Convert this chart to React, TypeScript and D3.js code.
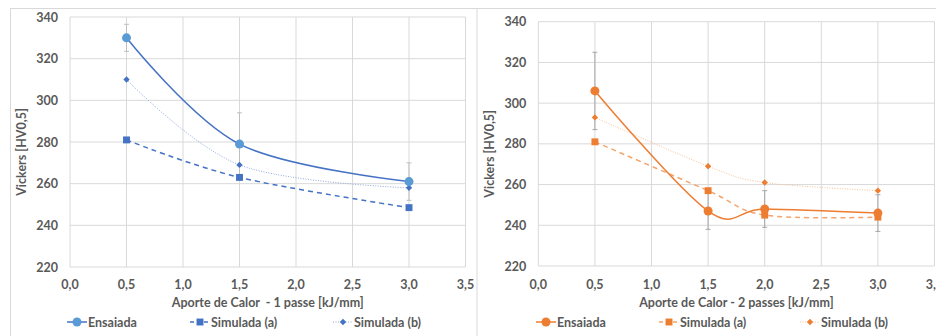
import React from 'react';
import * as d3 from 'd3';

// heat input (kJ/mm)
const heatOnePass = [0.5, 1.5, 3.0];
const ensaiadaOnePass = [330, 279, 261];
const ensaiadaOnePassErr = [6.5, 15, 9];
const simAOnePass = [281, 263, 248.5];
const simBOnePass = [310, 269, 258];

const heatTwoPass = [0.5, 1.5, 2.0, 3.0];
const ensaiadaTwoPass = [306, 247, 248, 246];
const ensaiadaTwoPassErr = [19, 9, 9, 9];
const simATwoPass = [281, 257, 245, 244];
const simBTwoPass = [293, 269, 261, 257];

const xTicks = [0, 0.5, 1, 1.5, 2, 2.5, 3, 3.5];
const yTicks = [220, 240, 260, 280, 300, 320, 340];
const seriesNames = ['Ensaiada', 'Simulada (a)', 'Simulada (b)'];
const yTitle = 'Vickers [HV0,5]';

const FONT = 'Lato, "Open Sans", sans-serif';
const TEXT = '#595959';
const GRID = '#d9d9d9';

type Palette = { main: string; marker: string; a: string; b: string; err: string };

type PanelProps = {
  x: number[];
  ens: number[];
  err: number[];
  simA: number[];
  simB: number[];
  title: string;
  box: { left: number; right: number; top: number; bottom: number };
  legendX: number[];
  colors: Palette;
};

const fmt = (v: number) => v.toFixed(1).replace('.', ',');

const Panel = ({ x, ens, err, simA, simB, title, box, legendX, colors }: PanelProps) => {
  const xScale = d3.scaleLinear().domain([0, 3.5]).range([box.left, box.right]);
  const yScale = d3.scaleLinear().domain([220, 340]).range([box.bottom, box.top]);
  const line = d3
    .line<[number, number]>()
    .x(d => xScale(d[0]))
    .y(d => yScale(d[1]))
    .curve(d3.curveCardinal.tension(0));
  const pts = (ys: number[]) => x.map((v, i) => [v, ys[i]] as [number, number]);

  const square = d3.symbol(d3.symbolSquare, 48)() as string;
  // Excel-style diamond: a square turned 45 degrees
  const diamond = d3.symbol(d3.symbolSquare, 20)() as string;
  const midX = (box.left + box.right) / 2;
  const midY = (box.top + box.bottom) / 2;
  const legendY = 322;

  return (
    <g style={{ fontFamily: FONT }}>
      {/* grid */}
      {xTicks.map(t => (
        <line key={`gx${t}`} x1={xScale(t)} x2={xScale(t)} y1={box.top} y2={box.bottom} stroke={GRID} strokeWidth={1} />
      ))}
      {yTicks.map(t => (
        <line key={`gy${t}`} x1={box.left} x2={box.right} y1={yScale(t)} y2={yScale(t)} stroke={GRID} strokeWidth={1} />
      ))}

      {/* tick labels */}
      {yTicks.map(t => (
        <text key={`ty${t}`} x={box.left - 12} y={yScale(t) + 4.5} textAnchor="end" fontSize={12.5} fontWeight={700} fill={TEXT}>
          {t}
        </text>
      ))}
      {xTicks.map(t => (
        <text key={`tx${t}`} x={xScale(t)} y={288.5} textAnchor="middle" fontSize={12.5} fontWeight={700} fill={TEXT}>
          {fmt(t)}
        </text>
      ))}

      {/* axis titles */}
      <text x={midX} y={307} textAnchor="middle" fontSize={12.5} fontWeight={700} fill={TEXT} style={{ whiteSpace: 'pre' }}>
        {title}
      </text>
      <text
        transform={`translate(26, ${midY + 10}) rotate(-90)`}
        textAnchor="middle"
        fontSize={12.5}
        fontWeight={700}
        fill={TEXT}
      >
        {yTitle}
      </text>

      {/* error bars */}
      {x.map((v, i) => (
        <g key={`e${i}`} stroke={colors.err} strokeWidth={1}>
          <line x1={xScale(v)} x2={xScale(v)} y1={yScale(ens[i] + err[i])} y2={yScale(ens[i] - err[i])} />
          <line x1={xScale(v) - 2.5} x2={xScale(v) + 2.5} y1={yScale(ens[i] + err[i])} y2={yScale(ens[i] + err[i])} />
          <line x1={xScale(v) - 2.5} x2={xScale(v) + 2.5} y1={yScale(ens[i] - err[i])} y2={yScale(ens[i] - err[i])} />
        </g>
      ))}

      {/* lines */}
      <path d={line(pts(simB)) ?? ''} fill="none" stroke={colors.b} strokeWidth={1} strokeDasharray="1,1.5" />
      <path d={line(pts(simA)) ?? ''} fill="none" stroke={colors.a} strokeWidth={1.5} strokeDasharray="5,4" />
      <path d={line(pts(ens)) ?? ''} fill="none" stroke={colors.main} strokeWidth={1.5} />

      {/* markers */}
      {x.map((v, i) => (
        <path key={`mb${i}`} d={diamond} transform={`translate(${xScale(v)},${yScale(simB[i])}) rotate(45)`} fill={colors.main} />
      ))}
      {x.map((v, i) => (
        <path key={`ma${i}`} d={square} transform={`translate(${xScale(v)},${yScale(simA[i])})`} fill={colors.main} />
      ))}
      {x.map((v, i) => (
        <circle key={`me${i}`} cx={xScale(v)} cy={yScale(ens[i])} r={4.5} fill={colors.marker} />
      ))}

      {/* legend */}
      {seriesNames.map((name, i) => {
        const lx = legendX[i];
        const stroke = i === 0 ? colors.main : i === 1 ? colors.a : colors.b;
        const dash = i === 0 ? undefined : i === 1 ? '4,3' : '1,1.5';
        return (
          <g key={name}>
            <line x1={lx} x2={lx + 20} y1={legendY} y2={legendY} stroke={stroke} strokeWidth={i === 2 ? 1 : 1.5} strokeDasharray={dash} />
            {i === 0 && <circle cx={lx + 10} cy={legendY} r={4.5} fill={colors.marker} />}
            {i === 1 && <path d={square} transform={`translate(${lx + 10},${legendY})`} fill={colors.main} />}
            {i === 2 && <path d={diamond} transform={`translate(${lx + 10},${legendY}) rotate(45)`} fill={colors.main} />}
            <text x={lx + 21} y={legendY + 4.5} fontSize={12.5} fontWeight={700} fill={TEXT}>
              {name}
            </text>
          </g>
        );
      })}
    </g>
  );
};

export default function App() {
  return (
    <div style={{ position: 'fixed', left: 0, top: 0, width: 936, height: 336, background: '#fff' }}>
      <svg width={936} height={336} viewBox="0 0 936 336">
        <rect width={936} height={336} fill="#fff" />
        {/* panel borders */}
        <line x1={10} x2={936} y1={8.5} y2={8.5} stroke={GRID} strokeWidth={1} />
        <line x1={10.5} x2={10.5} y1={8} y2={336} stroke={GRID} strokeWidth={1} />
        <line x1={477} x2={477} y1={8} y2={336} stroke={GRID} strokeWidth={1} />

        <Panel
          x={heatOnePass}
          ens={ensaiadaOnePass}
          err={ensaiadaOnePassErr}
          simA={simAOnePass}
          simB={simBOnePass}
          title="Aporte de Calor  - 1 passe [kJ/mm]"
          box={{ left: 70, right: 465.5, top: 17, bottom: 267 }}
          legendX={[67, 190, 333]}
          colors={{ main: '#4472C4', marker: '#5B9BD5', a: '#4472C4', b: '#8FAADC', err: '#bfbfbf' }}
        />
        <g transform="translate(468, 0)">
          <Panel
            x={heatTwoPass}
            ens={ensaiadaTwoPass}
            err={ensaiadaTwoPassErr}
            simA={simATwoPass}
            simB={simBTwoPass}
            title="Aporte de Calor - 2 passes [kJ/mm]"
            box={{ left: 70.3, right: 466.5, top: 21.7, bottom: 266 }}
            legendX={[68, 191, 332]}
            colors={{ main: '#ED7D31', marker: '#ED7D31', a: '#F4A36A', b: '#F8C29A', err: '#a6a6a6' }}
          />
        </g>
      </svg>
    </div>
  );
}
